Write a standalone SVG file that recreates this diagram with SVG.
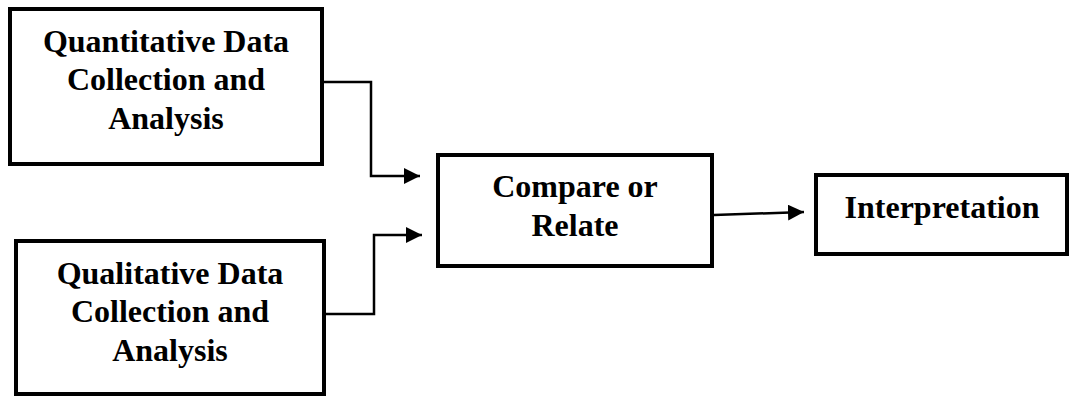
<svg xmlns="http://www.w3.org/2000/svg" width="1069" height="396" viewBox="0 0 1069 396">
<style>
.box{fill:#fff;stroke:#000;stroke-width:4}
.lbl{font-family:"Liberation Serif","Times New Roman",serif;font-weight:bold;font-size:32px;fill:#000;text-anchor:middle}
.con{fill:none;stroke:#000;stroke-width:2.5}
</style>
<defs>
<marker id="arr" markerUnits="userSpaceOnUse" markerWidth="18" markerHeight="18" refX="16" refY="8" orient="auto">
<path d="M0,0 L16,8 L0,16 Z" fill="#000"/>
</marker>
</defs>
<rect width="1069" height="396" fill="#fff"/>
<g id="quant">
<rect class="box" x="10" y="9" width="312" height="155"/>
<text class="lbl" x="166" y="52">Quantitative Data</text>
<text class="lbl" x="166" y="90">Collection and</text>
<text class="lbl" x="166" y="129">Analysis</text>
</g>
<g id="qual">
<rect class="box" x="16" y="241" width="308" height="153"/>
<text class="lbl" x="170" y="284">Qualitative Data</text>
<text class="lbl" x="170" y="322">Collection and</text>
<text class="lbl" x="170" y="361">Analysis</text>
</g>
<g id="compare">
<rect class="box" x="438" y="155" width="274" height="111"/>
<text class="lbl" x="575" y="197">Compare or</text>
<text class="lbl" x="575" y="236">Relate</text>
</g>
<g id="interp">
<rect class="box" x="816" y="175" width="251" height="79"/>
<text class="lbl" x="942" y="218">Interpretation</text>
</g>
<g id="connectors">
<polyline class="con" points="324,82 371,82 371,176 420,176" marker-end="url(#arr)"/>
<polyline class="con" points="326,314 374,314 374,235 422,235" marker-end="url(#arr)"/>
<line class="con" x1="714" y1="215" x2="804" y2="212" marker-end="url(#arr)"/>
</g>
</svg>
